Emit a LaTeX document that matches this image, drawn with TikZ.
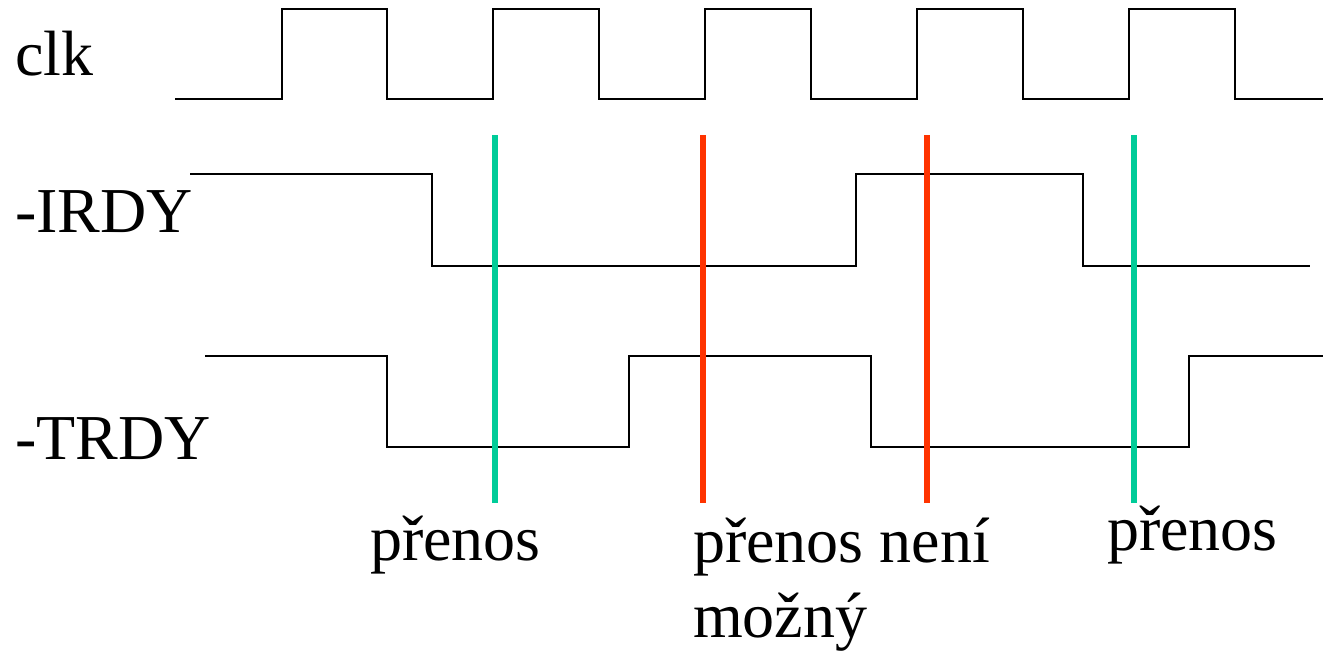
\documentclass[tikz,border=0pt]{standalone}
\usepackage{fontspec}
\setmainfont{Liberation Serif}
\definecolor{okgreen}{HTML}{00CC99}
\definecolor{nored}{HTML}{FF3300}
\begin{document}
\begin{tikzpicture}[x=1pt,y=-1pt,
  sig/.style={draw=black,line width=2pt,line join=miter},
  okline/.style={draw=okgreen,line width=6pt},
  noline/.style={draw=nored,line width=6pt},
  lbl/.style={anchor=base west,inner sep=0pt,font=\fontsize{64}{75}\selectfont}]
\useasboundingbox (0,0) rectangle (1323,651);
% clock
\draw[sig] (175,99) -- (282,99) -- (282,9) -- (387,9) -- (387,99) -- (493,99) -- (493,9) -- (599,9) -- (599,99)
  -- (705,99) -- (705,9) -- (811,9) -- (811,99) -- (917,99) -- (917,9) -- (1023,9) -- (1023,99)
  -- (1129,99) -- (1129,9) -- (1235,9) -- (1235,99) -- (1323,99);
% IRDY
\draw[sig] (190,174) -- (432,174) -- (432,266) -- (856,266) -- (856,174) -- (1083,174) -- (1083,266) -- (1310,266);
% TRDY
\draw[sig] (205,356) -- (387,356) -- (387,447) -- (629,447) -- (629,356) -- (871,356) -- (871,447) -- (1189,447) -- (1189,356) -- (1323,356);
% markers
\coordinate (g1t) at (495,135); \coordinate (g1b) at (495,503);
\coordinate (r1t) at (703,135); \coordinate (r1b) at (703,503);
\coordinate (r2t) at (927,135); \coordinate (r2b) at (927,503);
\coordinate (g2t) at (1134,135); \coordinate (g2b) at (1134,503);
\draw[okline] (g1t) -- (g1b);
\draw[noline] (r1t) -- (r1b);
\draw[noline] (r2t) -- (r2b);
\draw[okline] (g2t) -- (g2b);
% labels
\node[lbl] (clk) at (15,75) {clk};
\node[lbl] (irdy) at (15,232) {-IRDY};
\node[lbl] (trdy) at (15,459) {-TRDY};
\node[lbl] (p1) at (370,560) {přenos};
\node[lbl] (p2) at (693,562) {přenos není};
\node[lbl] (p3) at (693,637) {možný};
\node[lbl] (p4) at (1107,550) {přenos};
\end{tikzpicture}
\end{document}
